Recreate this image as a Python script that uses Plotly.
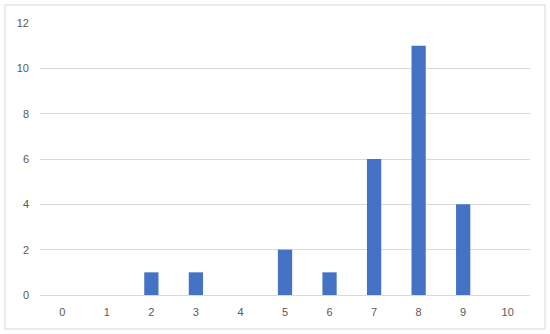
import plotly.graph_objects as go

categories = ["0", "1", "2", "3", "4", "5", "6", "7", "8", "9", "10"]
values = [0, 0, 1, 1, 0, 2, 1, 6, 11, 4, 0]
y_ticks = [0, 2, 4, 6, 8, 10, 12]

W, H = 550, 334
ml, mr, mt, mb = 40, 20, 23, 39
pw, ph = W - ml - mr, H - mt - mb

fig = go.Figure(go.Bar(x=categories, y=values, marker_color="#4472C4", marker_line_width=0))

fig.update_layout(
    width=W, height=H,
    margin=dict(l=ml, r=mr, t=mt, b=mb),
    plot_bgcolor="white", paper_bgcolor="white",
    bargap=0.68,
    showlegend=False,
    font=dict(family="Liberation Sans", size=11, color="#595959"),
    xaxis=dict(type="category", showgrid=False, zeroline=False, showline=False,
               ticks="", ticklabelstandoff=9, tickfont=dict(size=11, color="#595959")),
    yaxis=dict(range=[0, 12], tickvals=y_ticks, showgrid=True, gridcolor="#D9D9D9",
               gridwidth=1, zeroline=True, zerolinecolor="#D9D9D9", zerolinewidth=1,
               showline=False, ticks="", ticklabelstandoff=10,
               tickfont=dict(size=11, color="#595959")),
)

x0 = (5 - ml) / pw
x1 = (545 - ml) / pw
y0 = ((H - mb) - 329) / ph
y1 = ((H - mb) - 5) / ph
fig.add_shape(type="rect", xref="paper", yref="paper", x0=x0, x1=x1, y0=y0, y1=y1,
              line=dict(color="#D9D9D9", width=1), fillcolor="rgba(0,0,0,0)", layer="below")

fig.write_html("out.html", config={"displayModeBar": False},
               post_script="document.body.style.margin='0';")
